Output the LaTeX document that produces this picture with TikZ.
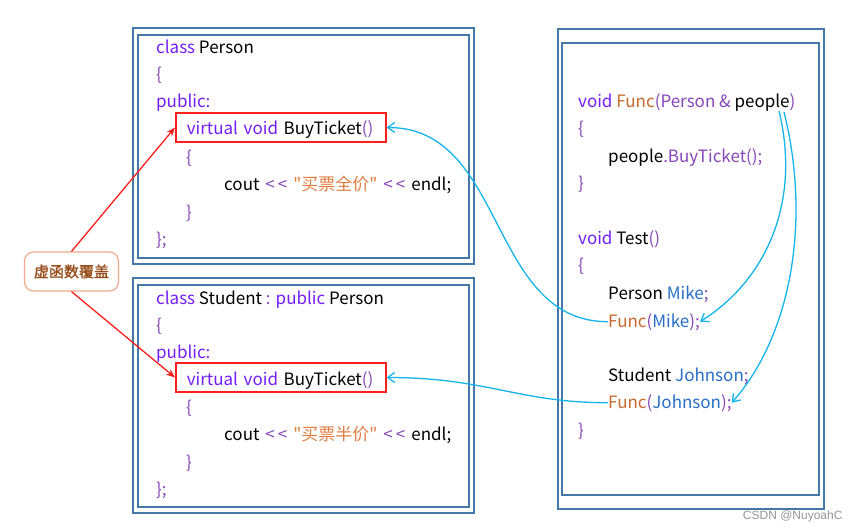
\documentclass[tikz,border=0pt]{standalone}
\usepackage{fontspec}
\setmainfont{Noto Sans CJK SC}[Ligatures=TeXOff]
\newfontfamily\notefont[FakeBold=1.5]{Noto Sans CJK SC}
\newfontfamily\markfont{Liberation Sans}
\usetikzlibrary{arrows.meta}
\definecolor{FrameBlue}{RGB}{68,120,168}
\definecolor{KeyViolet}{RGB}{115,30,250}
\definecolor{PunctPurple}{RGB}{135,70,185}
\definecolor{FuncOrange}{RGB}{200,105,45}
\definecolor{StrOrange}{RGB}{225,125,65}
\definecolor{VarBlue}{RGB}{40,110,200}
\definecolor{MarkRed}{RGB}{255,30,30}
\definecolor{LinkBlue}{RGB}{20,180,235}
\definecolor{NoteBrown}{RGB}{150,75,25}
\definecolor{NoteEdge}{RGB}{240,170,140}
\definecolor{WaterGrey}{RGB}{150,150,150}
\newcommand{\codesize}{\fontsize{17}{20}\selectfont}
\newcommand{\ckw}[1]{\textcolor{KeyViolet}{#1}}
\newcommand{\cpu}[1]{\textcolor{PunctPurple}{#1}}
\newcommand{\cfn}[1]{\textcolor{FuncOrange}{#1}}
\newcommand{\cstr}[1]{\textcolor{StrOrange}{#1}}
\newcommand{\cvar}[1]{\textcolor{VarBlue}{#1}}
\newcommand{\cshl}{\hspace{6pt}\cpu{<\kern3pt<}\hspace{6pt}}

\begin{document}
\begin{tikzpicture}[x=1pt, y=-1pt,
    frame/.style={draw=FrameBlue, line width=2pt},
    code/.style={anchor=base west, inner sep=0pt, font=\codesize},
    vbox/.style={draw=MarkRed, line width=1.6pt, anchor=west, text width=188pt, inner xsep=11pt, inner ysep=0pt, minimum height=29pt, text height=15pt, text depth=0pt, align=left, font=\codesize},
    note/.style={draw=NoteEdge, line width=1.2pt, rounded corners=9pt, minimum width=94pt, minimum height=39pt, text=NoteBrown, font=\notefont\fontsize{15}{17}\selectfont},
    redarrow/.style={draw=MarkRed, line width=1.3pt, -{Stealth[length=9pt,width=7pt]}},
    bluearrow/.style={draw=LinkBlue, line width=1.3pt, -{Straight Barb[length=7pt,width=10pt]}}]
    \useasboundingbox (0,0) rectangle (861,532);

    % Person
    \draw[frame] (133,28) rectangle (474,264);
    \draw[frame] (138,35) rectangle (469,258);
    \node[code] (personHead) at (156,54) {\ckw{class} Person};
    \node[code] (personOpen) at (156,81) {\cpu{\{}};
    \node[code] (personAccess) at (156,108) {\ckw{public:}};
    \node[vbox] (vfPerson) at (175,127.5) {\ckw{virtual void} BuyTicket\cpu{()}};
    \node[code] (personBodyOpen) at (186,163) {\cpu{\{}};
    \node[code] (personCout) at (224,190) {cout\cshl\cstr{"买票全价"}\cshl endl;};
    \node[code] (personBodyClose) at (186,218) {\cpu{\}}};
    \node[code] (personEnd) at (156,245) {\cpu{\};}};

    % Student
    \draw[frame] (133,278) rectangle (474,513);
    \draw[frame] (138,285) rectangle (469,507);
    \node[code] (studentHead) at (156,304) {\ckw{class} Student \cpu{:} \ckw{public} Person};
    \node[code] (studentOpen) at (156,331) {\cpu{\{}};
    \node[code] (studentAccess) at (156,358) {\ckw{public:}};
    \node[vbox] (vfStudent) at (175,377.5) {\ckw{virtual void} BuyTicket\cpu{()}};
    \node[code] (studentBodyOpen) at (186,413) {\cpu{\{}};
    \node[code] (studentCout) at (224,440) {cout\cshl\cstr{"买票半价"}\cshl endl;};
    \node[code] (studentBodyClose) at (186,468) {\cpu{\}}};
    \node[code] (studentEnd) at (156,495) {\cpu{\};}};

    % Func / Test
    \draw[frame] (558,29) rectangle (824,509);
    \draw[frame] (562,43) rectangle (819,495);
    \node[code] (funcDecl) at (578,108) {\ckw{void} \cfn{Func}\cpu{(Person \&} people\cpu{)}};
    \node[code] (funcOpen) at (578,135) {\cpu{\{}};
    \node[code] (funcBody) at (608,162) {people\cpu{.BuyTicket();}};
    \node[code] (funcClose) at (578,189) {\cpu{\}}};
    \node[code] (testDecl) at (578,244) {\ckw{void} Test\cpu{()}};
    \node[code] (testOpen) at (578,271) {\cpu{\{}};
    \node[code] (declMike) at (608,299) {Person \cvar{Mike}\cpu{;}};
    \node[code] (callMike) at (608,327) {\cfn{Func}\cpu{(}\cvar{Mike}\cpu{);}};
    \node[code] (declJohnson) at (608,381) {Student \cvar{Johnson}\cpu{;}};
    \node[code] (callJohnson) at (608,408) {\cfn{Func}\cpu{(}\cvar{Johnson}\cpu{);}};
    \node[code] (testClose) at (578,436) {\cpu{\}}};
    \coordinate (argMike) at (779,111);
    \coordinate (argJohnson) at (784,112);

    % Label
    \node[note] (virtNote) at (71.5,271.5) {虚函数覆盖};
    \draw[redarrow] (virtNote.north) -- (vfPerson.west);
    \draw[redarrow] (virtNote.south) -- (vfStudent.west);

    % Calls
    \draw[bluearrow] (callMike.west) .. controls +(-120,0) and +(120,0) .. (vfPerson.east);
    \draw[bluearrow] (callJohnson.west) .. controls +(-90,0) and +(100,0) .. (vfStudent.east);
    \draw[bluearrow] (argMike) .. controls +(22,90) and +(67,-42) .. (callMike.east);
    \draw[bluearrow] (argJohnson) .. controls +(27,108) and +(60,-68) .. (callJohnson.east);

    \node[font=\markfont\fontsize{12}{14}\selectfont, text=WaterGrey, anchor=east] (csdnMark) at (846,516) {CSDN @NuyoahC};
\end{tikzpicture}
\end{document}
